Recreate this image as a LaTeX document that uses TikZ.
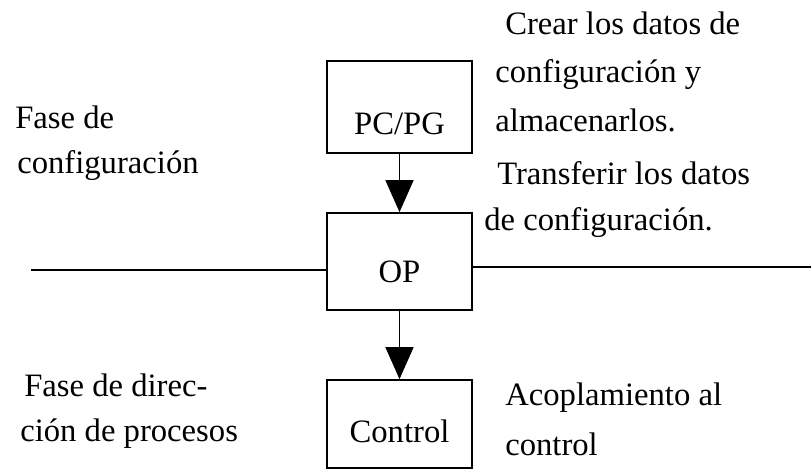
\documentclass[tikz,border=0pt]{standalone}
\usepackage{fontspec}
\setmainfont{Liberation Serif}
\usetikzlibrary{arrows.meta}

\begin{document}
\begin{tikzpicture}[
    x=0.75pt, y=-0.75pt,
    every node/.style={font=\fontsize{24.5}{29}\selectfont},
    box/.style={rectangle, draw, line width=1.3pt, minimum width=108.75pt, text depth=0pt},
    txt/.style={anchor=base west, inner sep=0pt},
    arrow/.style={-{Triangle[length=24pt, width=21pt]}, line width=1.2pt},
    bus/.style={line width=1.2pt}
  ]
    \useasboundingbox (0,0) rectangle (811,471);
    \node[box, minimum height=69pt, text height=40.5pt] (pc) at (399.5,107) {PC/PG};
    \node[box, minimum height=72.75pt, text height=32pt] (op) at (399.5,261.5) {OP};
    \node[box, minimum height=66pt, text height=27pt] (ctl) at (399.5,424) {Control};
    \draw[arrow] (pc) -- (op);
    \draw[arrow] (op) -- (ctl);
    % line that splits the two phases
    \coordinate (wl) at (31,270);
    \coordinate (er) at (811,267);
    \draw[bus] (wl) -- (wl -| op.west);
    \draw[bus] (op.east |- er) -- (er);
    % phase labels
    \node[txt] (f1) at (15,128) {Fase de};
    \node[txt] (f2) at (17,173) {configuración};
    \node[txt] (f3) at (24,396) {Fase de direc-};
    \node[txt] (f4) at (20,441) {ción de procesos};
    % what happens in each step
    \node[txt] (c1) at (505,35) {Crear los datos de};
    \node[txt] (c2) at (495,82) {configuración y};
    \node[txt] (c3) at (495,131) {almacenarlos.};
    \node[txt] (c4) at (497,184) {Transferir los datos};
    \node[txt] (c5) at (484,230) {de configuración.};
    \node[txt] (a1) at (505,405) {Acoplamiento al};
    \node[txt] (a2) at (505,455) {control};
  \end{tikzpicture}
\end{document}
